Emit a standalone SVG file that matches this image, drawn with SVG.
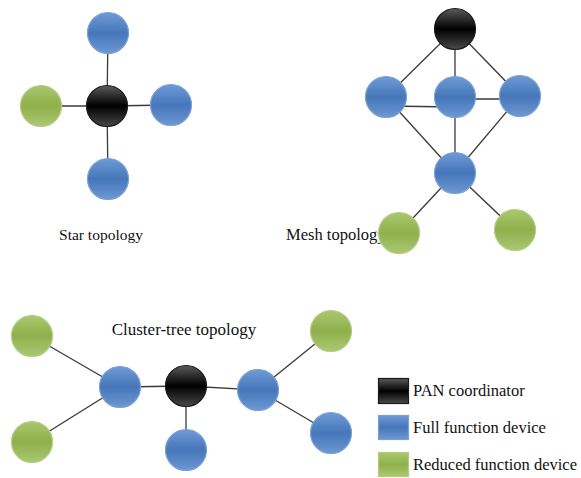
<svg xmlns="http://www.w3.org/2000/svg" width="581" height="478" viewBox="0 0 581 478">
<style>
.e{stroke:#3a3a3a;stroke-width:1.3;fill:none}
.b{fill:url(#gb);stroke:#7aa0d4;stroke-width:1.2}
.g{fill:url(#gg);stroke:#b2cc84;stroke-width:1.2}
.k{fill:url(#gk);stroke:#1a1a1a;stroke-width:1.2}
.t{font-family:"Liberation Serif","Times New Roman",serif;font-size:15.5px;fill:#111}
.l{font-size:16.5px}
</style>
<defs>
<linearGradient id="gb" x1="0" y1="0" x2="0" y2="1">
<stop offset="0" stop-color="#6f9ad6"/><stop offset="0.5" stop-color="#4677ba"/><stop offset="1" stop-color="#6d98d2"/>
</linearGradient>
<linearGradient id="gg" x1="0" y1="0" x2="0" y2="1">
<stop offset="0" stop-color="#a9c86e"/><stop offset="0.5" stop-color="#8fb04c"/><stop offset="1" stop-color="#abc872"/>
</linearGradient>
<linearGradient id="gk" x1="0" y1="0" x2="0" y2="1">
<stop offset="0" stop-color="#5a5a5a"/><stop offset="0.5" stop-color="#000"/><stop offset="1" stop-color="#4a4a4a"/>
</linearGradient>
</defs>
<rect width="581" height="478" fill="#fff"/>
<g id="connectors">
<line class="e" x1="107" y1="106" x2="108" y2="33"/>
<line class="e" x1="107" y1="106" x2="41" y2="106"/>
<line class="e" x1="107" y1="106" x2="171" y2="105"/>
<line class="e" x1="107" y1="106" x2="108" y2="179"/>
<line class="e" x1="455" y1="29" x2="386" y2="97"/>
<line class="e" x1="455" y1="29" x2="455" y2="97"/>
<line class="e" x1="455" y1="29" x2="520" y2="96"/>
<line class="e" x1="386" y1="106" x2="455" y2="107"/>
<line class="e" x1="455" y1="99" x2="520" y2="99"/>
<line class="e" x1="386" y1="97" x2="455" y2="173"/>
<line class="e" x1="455" y1="97" x2="455" y2="173"/>
<line class="e" x1="520" y1="96" x2="455" y2="173"/>
<line class="e" x1="455" y1="173" x2="399" y2="233"/>
<line class="e" x1="455" y1="173" x2="515" y2="230"/>
<line class="e" x1="32" y1="336" x2="120" y2="387"/>
<line class="e" x1="32" y1="442" x2="120" y2="387"/>
<line class="e" x1="120" y1="387" x2="186" y2="386"/>
<line class="e" x1="186" y1="386" x2="186" y2="450"/>
<line class="e" x1="186" y1="386" x2="258" y2="390"/>
<line class="e" x1="258" y1="390" x2="331" y2="331"/>
<line class="e" x1="258" y1="390" x2="331" y2="433"/>
</g>
<text class="t" x="101" y="240" text-anchor="middle">Star topology</text>
<text class="t" x="286" y="240" style="font-size:16.5px">Mesh topology</text>
<text class="t" x="184" y="335" text-anchor="middle" style="font-size:17px">Cluster-tree topology</text>
<g id="star-center"><circle class="k" cx="107" cy="106" r="20.5"/></g>
<g id="star-top"><circle class="b" cx="108" cy="33" r="20.5"/></g>
<g id="star-left"><circle class="g" cx="41" cy="106" r="20.5"/></g>
<g id="star-right"><circle class="b" cx="171" cy="105" r="20.5"/></g>
<g id="star-bottom"><circle class="b" cx="108" cy="179" r="20.5"/></g>
<g id="mesh-coord"><circle class="k" cx="455" cy="29" r="20.5"/></g>
<g id="mesh-left"><circle class="b" cx="386" cy="97" r="20.5"/></g>
<g id="mesh-mid"><circle class="b" cx="455" cy="97" r="20.5"/></g>
<g id="mesh-right"><circle class="b" cx="520" cy="96" r="20.5"/></g>
<g id="mesh-bottom"><circle class="b" cx="455" cy="173" r="20.5"/></g>
<g id="mesh-green-left"><circle class="g" cx="399" cy="233" r="20.5"/></g>
<g id="mesh-green-right"><circle class="g" cx="515" cy="230" r="20.5"/></g>
<g id="ct-green-tl"><circle class="g" cx="32" cy="336" r="20.5"/></g>
<g id="ct-green-bl"><circle class="g" cx="32" cy="442" r="20.5"/></g>
<g id="ct-blue-left"><circle class="b" cx="120" cy="387" r="20.5"/></g>
<g id="ct-coord"><circle class="k" cx="186" cy="386" r="20.5"/></g>
<g id="ct-blue-below"><circle class="b" cx="186" cy="450" r="20.5"/></g>
<g id="ct-blue-right"><circle class="b" cx="258" cy="390" r="20.5"/></g>
<g id="ct-green-tr"><circle class="g" cx="331" cy="331" r="20.5"/></g>
<g id="ct-blue-br"><circle class="b" cx="331" cy="433" r="20.5"/></g>
<g id="legend">
<rect class="k" x="378.5" y="378.5" width="30" height="25"/>
<rect class="b" x="378.5" y="415.5" width="30" height="24"/>
<rect class="g" x="378.5" y="452.5" width="30" height="24"/>
<text class="t l" x="413" y="396">PAN coordinator</text>
<text class="t l" x="413" y="433">Full function device</text>
<text class="t l" x="413" y="470">Reduced function device</text>
</g>
</svg>
